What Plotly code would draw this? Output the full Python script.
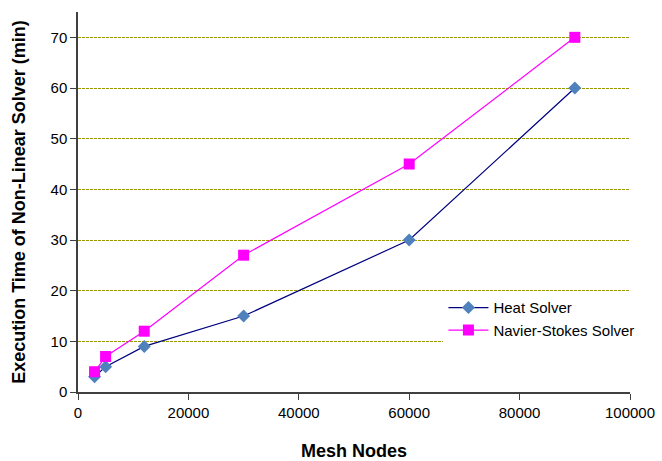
import plotly.graph_objects as go

# Mesh sizes and solver execution times (minutes)
mesh_nodes = [3000, 5000, 12000, 30000, 60000, 90000]
heat_solver = [3, 5, 9, 15, 30, 60]
navier_stokes_solver = [4, 7, 12, 27, 45, 70]

font_family = "Liberation Sans, Arial, sans-serif"

fig = go.Figure()
fig.add_trace(go.Scatter(
    x=mesh_nodes, y=heat_solver, name="Heat Solver",
    mode="lines+markers",
    line=dict(color="#000080", width=1.2),
    marker=dict(symbol="diamond", size=10, color="#4F81BD"),
))
fig.add_trace(go.Scatter(
    x=mesh_nodes, y=navier_stokes_solver, name="Navier-Stokes Solver",
    mode="lines+markers",
    line=dict(color="#FF00FF", width=1.2),
    marker=dict(symbol="square", size=11, color="#FF00FF"),
))

fig.update_layout(
    width=662, height=461,
    margin=dict(l=78, r=32, t=12, b=69),
    paper_bgcolor="white", plot_bgcolor="white",
    font=dict(family=font_family, size=15, color="black"),
    showlegend=True,
    legend=dict(
        x=0.662, y=0.265, xanchor="left", yanchor="top",
        bgcolor="white", borderwidth=0,
        font=dict(size=15, family=font_family),
        tracegroupgap=6,
        itemwidth=40,
    ),
    xaxis=dict(
        range=[0, 100000], dtick=20000, tickformat="d",
        showgrid=False, zeroline=False, automargin=False,
        showline=True, linecolor="#404040", linewidth=1.5,
        ticks="outside", ticklen=6, tickcolor="#404040",
        title=dict(text="<b>Mesh Nodes</b>", font=dict(size=18), standoff=26),
    ),
    yaxis=dict(
        range=[0, 75], dtick=10,
        showgrid=True, gridcolor="#9A9A00", griddash="3px,1px", gridwidth=1,
        zeroline=False, automargin=False,
        showline=True, linecolor="#404040", linewidth=1.5,
        ticks="outside", ticklen=6, tickcolor="#404040",
        title=dict(text="<b>Execution Time of Non-Linear Solver (min)</b>",
                   font=dict(size=18), standoff=20),
    ),
)

fig.write_html("out.html")
